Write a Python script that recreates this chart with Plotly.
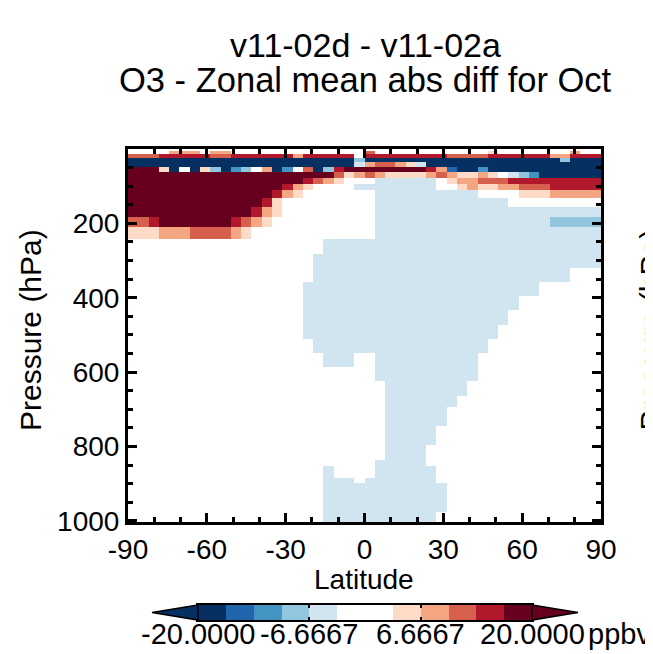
import numpy as np
import plotly.graph_objects as go

# ---------------- text ----------------
TITLE_LINE1 = "v11-02d - v11-02a"
TITLE_LINE2 = "O3 - Zonal mean abs diff for Oct"
X_TITLE = "Latitude"
Y_TITLE = "Pressure (hPa)"
UNITS = "ppbv"

# ---------------- grid ----------------
N_LAT = 46
LAT_EDGES = np.linspace(-90, 90, N_LAT + 1)        # 46 equal latitude boxes
P_EDGES = [0.0, 0.1, 0.4, 1.1, 2.9, 6.7, 14.5, 24.1, 34.3, 47.8,
           62.8, 77.9, 93.0, 110.5, 132.8, 157.2, 181.7, 208.9, 243.1, 281.4,
           319.6, 357.8, 395.9, 434.1, 472.3, 510.4, 548.6, 586.8, 625.0, 663.1,
           695.0, 720.4, 745.9, 771.4, 796.8, 819.7, 837.6, 852.8, 868.1, 883.4,
           898.7, 914.0, 929.3, 944.5, 959.8, 975.1, 990.4, 1005.65, 1013.25]

X_TICKS = [-90, -60, -30, 0, 30, 60, 90]
Y_TICKS = [200, 400, 600, 800, 1000]
CB_TICKS = [-20.0, -6.6667, 6.6667, 20.0]
CB_TICKTEXT = ["-20.0000", "-6.6667", "6.6667", "20.0000"]

# estimated difference (ppbv) for each colour class
CLASS_VALUES = {"N": -22.0, "B": -15.0, "M": -11.5, "L": -8.5, "V": -5.0,
                "W": 0.0, "P": 5.0, "S": 8.5, "O": 11.5, "R": 15.0, "D": 22.0}

# rows (top = lowest pressure), run-length: <class><count>, 46 latitude boxes per row
STRAT_ROWS = [
    "W46", "W46", "W46", "W46", "W46",
    "W4 S3 W1 S2 W13 O1 W11 P1 W7 S1 W2",
    "O3 R5 O2 R6 S1 R5 W1 R8 O4 R6 S2 R3",
    "N22 L1 N19 L1 N3",
    "N22 V1 S1 O2 S1 P1 V1 N17",
    "D3 P1 N1 W1 N1 P1 L1 N1 M1 L1 W1 S1 N1 M1 W1 O1 N1 L1 R1 D8 R1 S1 B1 N2 M1 N11",
    "D20 O1 P1 S1 O1 S1 P4 S1 O1 S1 P2 S1 P1 W1 V1 L1 M1 N6",
    "D17 R1 O1 S1 P1 W3 V6 W1 P1 S2 O3 R9",
    "D15 R1 S1 P1 W4 V8 W2 P1 S1 P2 S2 O3 R5",
    "D14 R1 S1 P1 W7 V10 W4 P3 S5",
]
UTLS_ROWS = [
    "D13 R1 P1 W9 V13 W9",
    "D12 R1 S1 P1 W9 V22",
    "O2 R1 D7 R1 O1 S1 P1 W10 V17 L5",
    "P3 S3 O4 S1 P1 W12 V22",
    "W19 V27",
    "W18 V28",
    "W18 V25 W3",
    "W17 V23 W6",
    "W17 V21 W8",
    "W17 V20 W9",
    "W17 V19 W10",
    "W18 V17 W11",
]
TROP_ROWS = [
    "W19 V3 W2 V10 W12",
    "W24 V10 W12",
    "W25 V8 W13",
    "W25 V7 W14",
    "W25 V6 W15",
    "W25 V6 W15",
    "W25 V5 W16",
    "W25 V5 W16",
    "W25 V4 W17",
    "W25 V4 W17",
    "W24 V5 W17",
    "W19 V1 W4 V6 W16",
    "W19 V1 W4 V6 W16",
    "W19 V3 W1 V7 W16",
    "W19 V12 W15",
    "W19 V12 W15",
    "W19 V12 W15",
    "W19 V12 W15",
    "W19 V12 W15",
    "W19 V11 W16",
    "W19 V11 W16",
    "W19 V11 W16",
]

# colour levels (12 bins between ZMIN and ZMAX, arrows beyond)
LEVEL_COLORS = ["#053061", "#2166ac", "#4393c3", "#92c5de", "#d1e5f0", "#ffffff",
                "#ffffff", "#fddbc7", "#f4a582", "#d6604d", "#b2182b", "#67001f"]
ZMIN, ZMAX = -20.0, 20.0


def decode(row):
    out = []
    for tok in row.split():
        out += [CLASS_VALUES[tok[0]]] * int(tok[1:])
    if len(out) != N_LAT:
        raise ValueError("row length %d: %s" % (len(out), row))
    return out


z = np.array([decode(r) for r in STRAT_ROWS + UTLS_ROWS + TROP_ROWS])

nlev = len(LEVEL_COLORS)
colorscale = []
for i, c in enumerate(LEVEL_COLORS):
    colorscale.append([i / nlev, c])
    colorscale.append([(i + 1) / nlev, c])

level_edges = np.linspace(ZMIN, ZMAX, nlev + 1)
level_mids = (level_edges[:-1] + level_edges[1:]) / 2

# ---------------- layout geometry (window pixels) ----------------
WIN_W, WIN_H = 653, 654
OFF = 8                      # default page margin around the figure
W, H = WIN_W - OFF, WIN_H - OFF
PLOT_L, PLOT_R, PLOT_T, PLOT_B = 128, 601, 149, 522
CB_L, CB_R, CB_T, CB_B = 198, 532, 605, 620
ARROW_L, ARROW_R = 152, 578
CB_LABEL_Y = 634


def fx(px):
    return (px - OFF) / W


def fy(py):
    return 1 - (py - OFF) / H


FONT = "Liberation Sans, Arial, Helvetica, sans-serif"

fig = go.Figure()
fig.add_trace(go.Heatmap(
    x=LAT_EDGES, y=P_EDGES, z=z,
    colorscale=colorscale, zmin=ZMIN, zmax=ZMAX, zsmooth=False,
    showscale=False, hoverinfo="skip", xaxis="x", yaxis="y",
))
# colour bar drawn as its own heatmap strip
fig.add_trace(go.Heatmap(
    x=level_edges, y=[0, 1], z=[level_mids],
    colorscale=colorscale, zmin=ZMIN, zmax=ZMAX, zsmooth=False,
    showscale=False, hoverinfo="skip", xaxis="x2", yaxis="y2",
))

# arrow ends of colour bar
ymid = (CB_T + CB_B) / 2
fig.add_shape(type="path", xref="paper", yref="paper",
              path="M %f,%f L %f,%f L %f,%f Z" % (fx(CB_L), fy(CB_T), fx(ARROW_L), fy(ymid), fx(CB_L), fy(CB_B)),
              fillcolor=LEVEL_COLORS[0], line=dict(color="black", width=1.5), layer="above")
fig.add_shape(type="path", xref="paper", yref="paper",
              path="M %f,%f L %f,%f L %f,%f Z" % (fx(CB_R), fy(CB_T), fx(ARROW_R), fy(ymid), fx(CB_R), fy(CB_B)),
              fillcolor=LEVEL_COLORS[-1], line=dict(color="black", width=1.5), layer="above")

axis_common = dict(
    showline=True, linewidth=3, linecolor="black", mirror="ticks",
    ticks="inside", ticklen=9, tickwidth=3, tickcolor="black",
    showgrid=False, zeroline=False,
    tickfont=dict(family=FONT, size=28, color="black"),
)

fig.update_layout(
    xaxis=dict(domain=[fx(PLOT_L), fx(PLOT_R)], range=[-90, 90], tickmode="array",
               tickvals=X_TICKS, ticktext=[str(v) for v in X_TICKS],
               minor=dict(tickmode="linear", tick0=0, dtick=10, ticks="inside",
                          ticklen=5, tickwidth=3, tickcolor="black"),
               anchor="y", **axis_common),
    yaxis=dict(domain=[fy(PLOT_B), fy(PLOT_T)], range=[1003, 0], tickmode="array",
               tickvals=Y_TICKS, ticktext=[str(v) for v in Y_TICKS],
               minor=dict(tickmode="linear", tick0=0, dtick=50, ticks="inside",
                          ticklen=5, tickwidth=3, tickcolor="black"),
               anchor="x", **axis_common),
    xaxis2=dict(domain=[fx(CB_L), fx(CB_R)], range=[ZMIN, ZMAX], anchor="y2",
                tickmode="array", tickvals=CB_TICKS, showticklabels=False,
                ticks="inside", ticklen=3, tickwidth=2, tickcolor="black",
                showline=True, linewidth=2, linecolor="black", mirror="ticks",
                showgrid=False, zeroline=False),
    yaxis2=dict(domain=[fy(CB_B), fy(CB_T)], range=[0, 1], anchor="x2",
                showticklabels=False, ticks="", showline=True, linewidth=2,
                linecolor="black", mirror=True, showgrid=False, zeroline=False),
)

ann_font = dict(family=FONT, color="black")
annotations = [
    dict(text=TITLE_LINE1, x=fx(365), y=fy(45), font=dict(size=34, **ann_font)),
    dict(text=TITLE_LINE2, x=fx(365), y=fy(80), font=dict(size=34.5, **ann_font)),
    dict(text=X_TITLE, x=fx(364), y=fy(579), font=dict(size=28, **ann_font)),
    dict(text=Y_TITLE, x=fx(30), y=fy(330), textangle=-90, font=dict(size=30, **ann_font)),
    dict(text=UNITS, x=fx(586), y=fy(CB_LABEL_Y), xanchor="left", font=dict(size=29, **ann_font)),
    dict(text=Y_TITLE, x=fx(631), y=fy(330), textangle=-90, xanchor="left",
         font=dict(size=30, **ann_font)),
]
for a in annotations:
    a.setdefault("xanchor", "center")
    a.update(xref="paper", yref="paper", yanchor="middle", showarrow=False)
# colour bar labels, placed at their values on the colour-bar axis
for v, t in zip(CB_TICKS, CB_TICKTEXT):
    annotations.append(dict(text=t, x=v, xref="x2", y=fy(CB_LABEL_Y), yref="paper",
                            xanchor="center", yanchor="middle", showarrow=False,
                            font=dict(size=29, **ann_font)))

fig.update_layout(
    width=W, height=H,
    margin=dict(l=0, r=0, t=0, b=0, pad=0, autoexpand=False),
    paper_bgcolor="white", plot_bgcolor="white",
    font=dict(family=FONT, color="black"),
    annotations=annotations,
    showlegend=False,
)

fig.write_html("out.html")
